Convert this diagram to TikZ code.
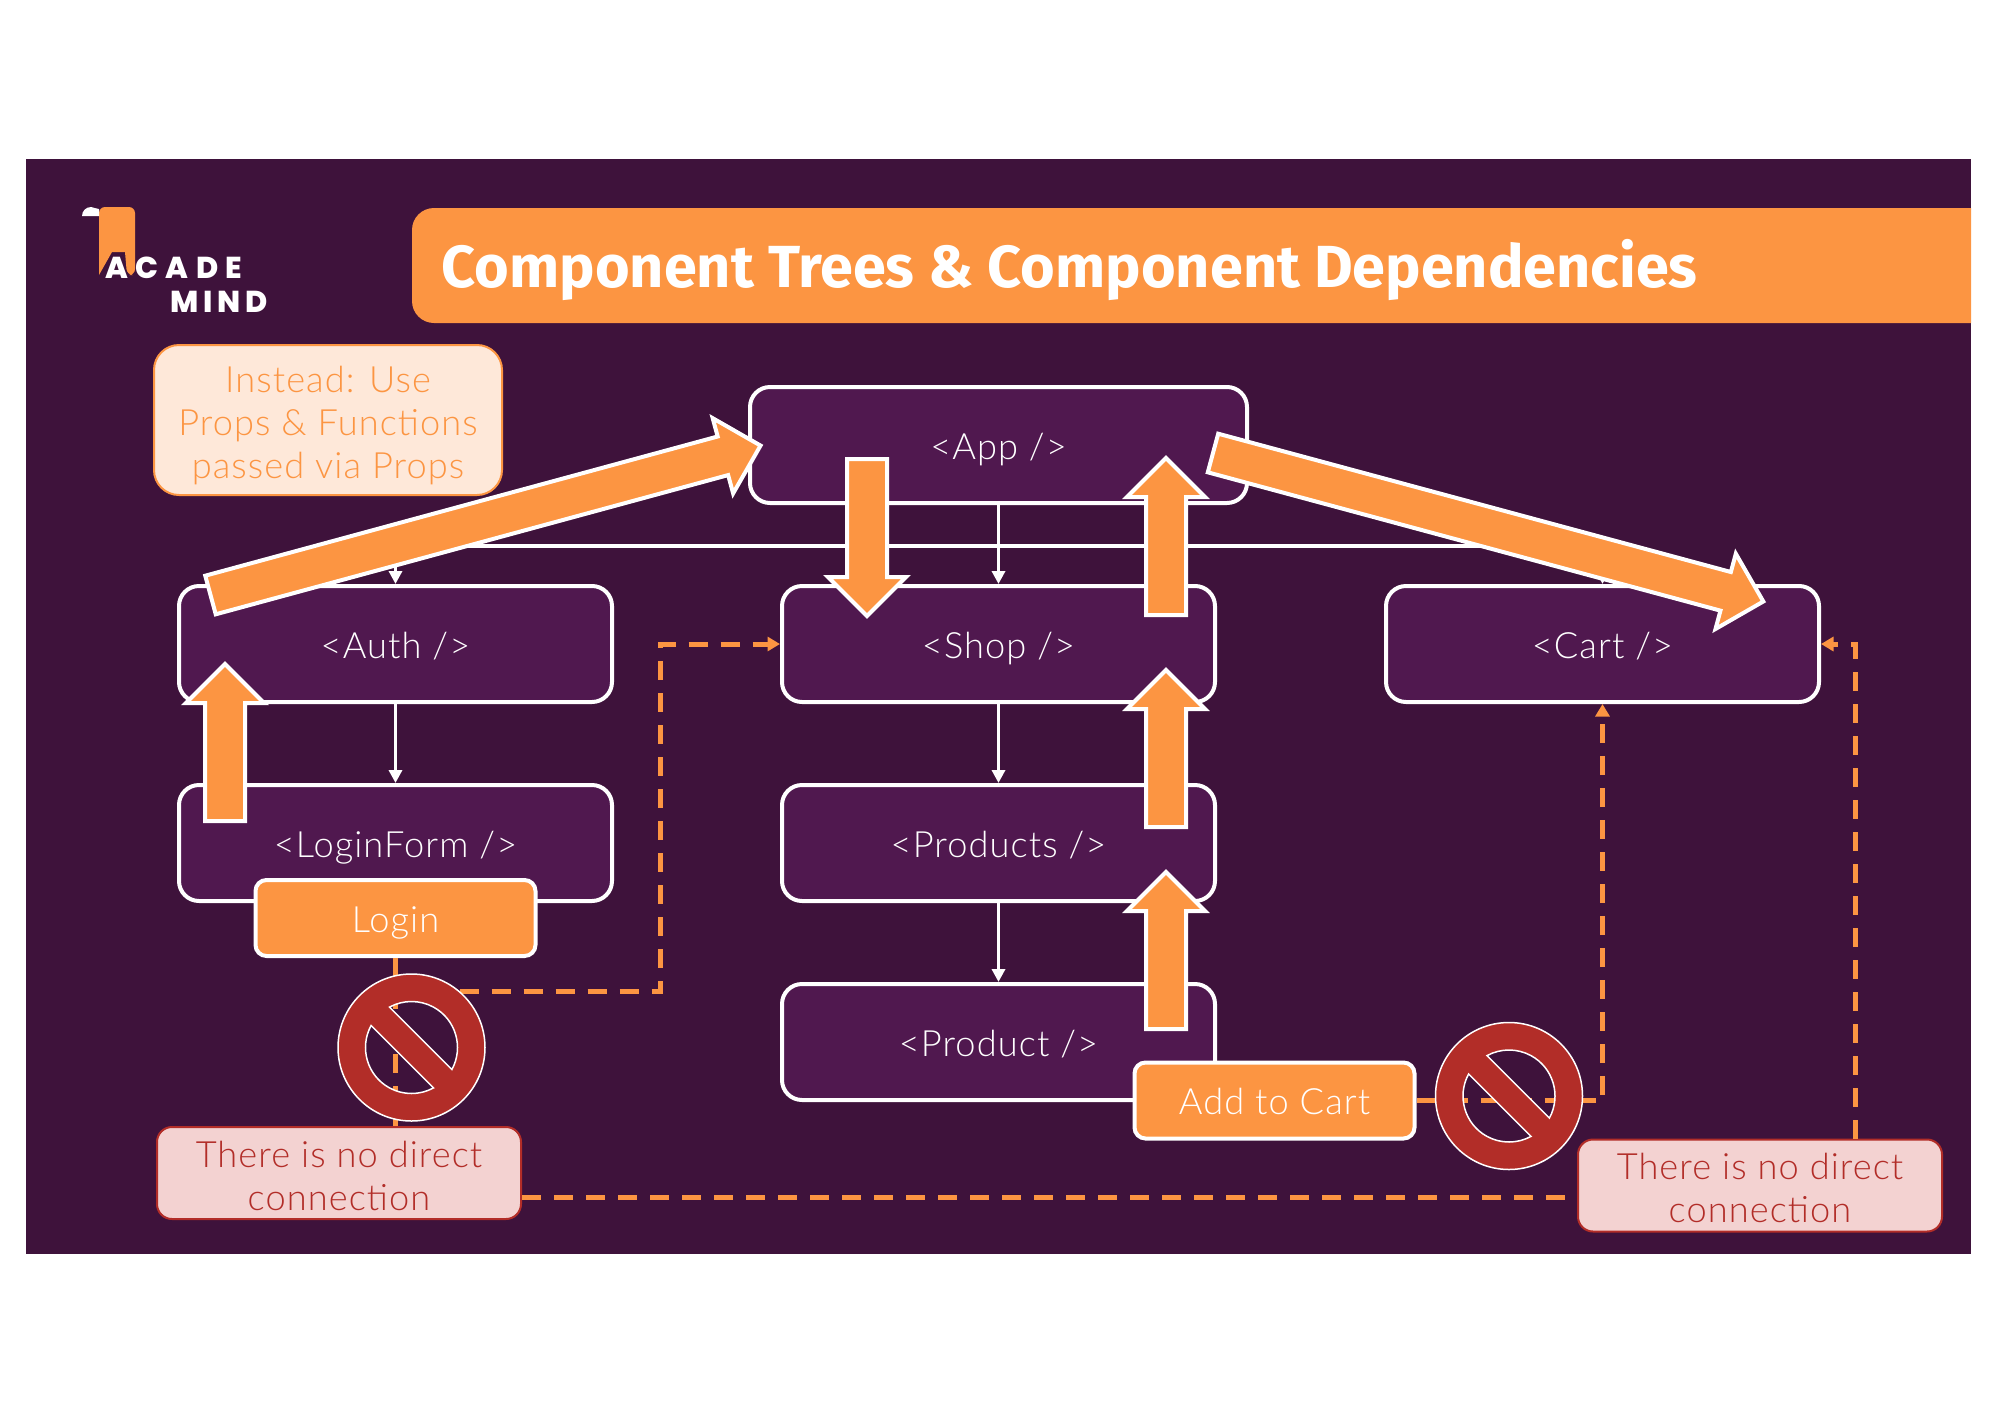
\documentclass[tikz,border=0pt]{standalone}
\usepackage{fontspec}
\setmainfont{Lato}[UprightFont=* Light, LetterSpace=3]
\newfontfamily\titleFont{Fira Sans}[UprightFont=* Bold]
\newfontfamily\logoFontA{Poppins}[UprightFont=* ExtraBold, LetterSpace=24]
\newfontfamily\logoFontB{Poppins}[UprightFont=* ExtraBold, LetterSpace=16]
\usetikzlibrary{arrows.meta, positioning, shapes.arrows, calc}
\definecolor{colFondo}{HTML}{3E123B}
\definecolor{colCaja}{HTML}{50184F}
\definecolor{colNaranja}{HTML}{FC9542}
\definecolor{colNaranjaClaro}{HTML}{FEE8D9}
\definecolor{colRojo}{HTML}{B22D28}
\definecolor{colRojoClaro}{HTML}{F3D2D1}
\tikzset{
  textoBase/.style={font=\fontsize{10.3}{12.2}\selectfont, align=center},
  cajaBase/.style={
    textoBase, draw=white, line width=0.04cm, rounded corners=0.2cm,
    fill=colCaja, text=white, minimum height=1.16cm, minimum width=4.33cm,
    text height=0.36cm, text depth=0.08cm
  },
  cajaBoton/.style={
    textoBase, draw=white, line width=0.04cm, rounded corners=0.11cm,
    fill=colNaranja, text=white, minimum height=0.76cm, minimum width=2.8cm,
    text height=0.36cm, text depth=0.08cm
  },
  cajaAviso/.style={
    textoBase, draw=colRojo, line width=0.02cm, rounded corners=0.15cm,
    fill=colRojoClaro, text=colRojo, minimum height=0.92cm, minimum width=3.64cm, inner sep=0pt
  },
  cajaConsejo/.style={
    textoBase, draw=colNaranja, line width=0.02cm, rounded corners=0.25cm,
    fill=colNaranjaClaro, text=colNaranja, minimum height=1.5cm, minimum width=3.48cm, inner sep=0pt
  },
  flecha/.style={-{Triangle[length=1.3mm, width=1.3mm]}, white, line width=0.035cm},
  linea/.style={white, line width=0.035cm},
  punteada/.style={colNaranja, line width=0.05cm, dash pattern=on 0.19cm off 0.13cm},
  punteadaFlecha/.style={punteada, -{Triangle[length=1.25mm, width=1.4mm]}},
  flechaGruesa/.style={
    single arrow, draw=white, fill=colNaranja, line width=0.04cm, inner xsep=0pt, inner ysep=0.18cm, outer sep=0pt,
    single arrow head extend=0.19cm, single arrow tip angle=90,
    single arrow head indent=0pt, anchor=tail
  },
  senalProhibido/.pic={
    \path[fill=colRojo, draw=white, line width=0.015cm, even odd rule]
      (0,0) circle (0.735)
      (-28.6:0.46) arc[start angle=-28.6, end angle=118.6, radius=0.46] -- cycle
      (151.4:0.46) arc[start angle=151.4, end angle=298.6, radius=0.46] -- cycle;
  },
}
\begin{document}
\begin{tikzpicture}[node distance=0.79cm]
    \useasboundingbox (0,0) rectangle (20,-14.14);
    \fill[colFondo] (0.26,-1.59) rectangle (19.71,-12.54);

    % Logo
    \fill[colNaranja, rounded corners=0.06cm] (0.99,-2.75) -- (0.99,-2.07) -- (1.35,-2.07) -- (1.35,-2.75) -- (1.27,-2.75)
      [sharp corners] -- (1.25,-2.52) -- (1.12,-2.52) -- cycle;
    \fill[white] (0.82,-2.16) arc[start angle=180, end angle=60, radius=0.09] -- (0.99,-2.09) -- (0.99,-2.16) -- cycle;
    \node[font=\logoFontA\fontsize{8.6}{10}\selectfont, text=white, anchor=west, inner sep=0pt] (logoAcade) at (1.05,-2.675) {ACADE};
    \node[font=\logoFontB\fontsize{8.6}{10}\selectfont, text=white, anchor=west, inner sep=0pt] (logoMind) at (1.7,-3.015) {MIND};

    % Title
    \fill[colNaranja] (19.71,-2.08) [rounded corners=0.22cm] -- (4.12,-2.08) -- (4.12,-3.23) [sharp corners] -- (19.71,-3.23) -- cycle;
    \node[font=\titleFont\fontsize{16.9}{20}\selectfont, text=white, anchor=west, inner sep=0pt] (titulo) at (4.41,-2.7) {Component Trees \& Component Dependencies};

    % Tree
    \node[cajaBase, minimum width=4.97cm] (app) at (9.985,-4.45) {<App />};
    \node[cajaBase, below=of app] (shop) {<Shop />};
    \node[cajaBase, left=1.66cm of shop] (auth) {<Auth />};
    \node[cajaBase, right=1.67cm of shop] (cart) {<Cart />};
    \node[cajaBase, below=of auth] (loginForm) {<LoginForm />};
    \node[cajaBase, below=of shop] (products) {<Products />};
    \node[cajaBase, below=of products] (product) {<Product />};

    \coordinate (ramaApp) at ($(app.south)+(0,-0.41)$);
    \draw[flecha] (app.south) -- (shop.north);
    \draw[linea] (auth.north |- ramaApp) -- (cart.north |- ramaApp);
    \draw[flecha] (ramaApp -| auth.north) -- (auth.north);
    \draw[flecha] (ramaApp -| cart.north) -- (cart.north);
    \draw[flecha] (auth) -- (loginForm);
    \draw[flecha] (shop) -- (products);
    \draw[flecha] (products) -- (product);

    % Buttons
    \node[cajaBoton, below=-0.25cm of loginForm] (login) {Login};
    \node[cajaBoton] (addCart) at (12.745,-11.005) {Add to Cart};

    % Notes
    \node[cajaConsejo] (consejo) at (3.28,-4.2) {\rule{0pt}{0.37cm}Instead: Use\\Props \& Functions\\passed via Props};
    \node[cajaAviso] (avisoIzq) at (3.39,-11.73) {\rule{0pt}{0.32cm}There is no direct\\connection};
    \node[cajaAviso] (avisoDer) at (17.6,-11.855) {\rule{0pt}{0.32cm}There is no direct\\connection};

    % Dashed links
    \coordinate (giroLogin) at (6.6,-9.91);
    \coordinate (giroCart) at ($(cart.east)+(0.34,0)$);
    \draw[punteada] (login.south) -- (login.south |- avisoIzq.north);
    \draw[punteadaFlecha] (login.south |- giroLogin) -- (giroLogin) |- (shop.west);
    \draw[punteada] ($(avisoIzq.east)+(0,-0.24)$) -- ($(avisoDer.west)+(0,-0.115)$);
    \draw[punteadaFlecha] (avisoDer.north -| giroCart) -- (giroCart) -- (cart.east);
    \draw[punteadaFlecha] (addCart.east) -| (cart.south);

    % Signs
    \pic at (4.115,-10.475) {senalProhibido};
    \pic at (15.09,-10.96) {senalProhibido};

    % Thick arrows
    \node[flechaGruesa, minimum height=5.7cm, rotate=15.2] (flechaAuthApp) at (2.105,-5.95) {};
    \node[flechaGruesa, minimum height=5.7cm, rotate=-15.1] (flechaAppCart) at (12.13,-4.53) {};
    \node[flechaGruesa, minimum height=1.57cm, rotate=-90] (flechaAppShop) at (8.67,-4.59) {};
    \node[flechaGruesa, minimum height=1.57cm, rotate=90] (flechaShopApp) at (11.66,-6.15) {};
    \node[flechaGruesa, minimum height=1.57cm, rotate=90] (flechaProductsShop) at (11.66,-8.27) {};
    \node[flechaGruesa, minimum height=1.57cm, rotate=90] (flechaProductProducts) at (11.66,-10.29) {};
    \node[flechaGruesa, minimum height=1.57cm, rotate=90] (flechaLoginAuth) at (2.25,-8.21) {};
  \end{tikzpicture}
\end{document}
